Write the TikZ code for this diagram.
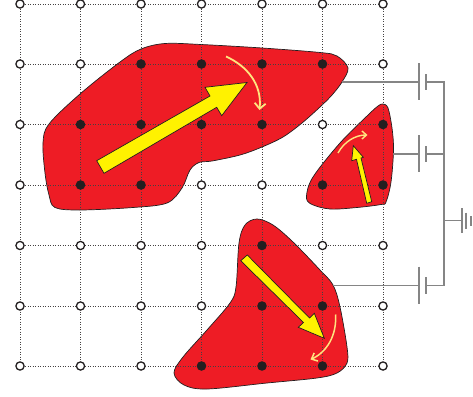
\documentclass[tikz,border=0pt]{standalone}
\usetikzlibrary{arrows.meta}
\definecolor{blobred}{HTML}{EE1C25}
\definecolor{arrowyellow}{HTML}{FFF200}
\definecolor{ink}{HTML}{231F20}
\definecolor{cream}{HTML}{FFE57F}
\definecolor{wire}{HTML}{858585}
\tikzset{
  blob/.style={fill=blobred,draw=ink,line width=.7pt},
  gridline/.style={draw=ink!85,line width=.7pt,dash pattern=on 1pt off 1.5pt},
  opendot/.style={circle,draw=ink,fill=white,line width=1.3pt,minimum size=8.2pt,inner sep=0pt},
  fulldot/.style={circle,fill=ink,minimum size=9.6pt,inner sep=0pt},
  bigarrow/.style={fill=arrowyellow,draw=ink,line width=.7pt,line join=miter},
  turn/.style={draw=cream,line width=1.8pt,-{Straight Barb[length=5.5pt,width=11pt,line width=1.8pt]}},
  wireline/.style={draw=wire,line width=1.4pt},
  plate/.style={draw=wire,line width=1.6pt}
}
\begin{document}
\begin{tikzpicture}[x=1pt,y=-1pt]
\useasboundingbox (0,0) rectangle (473,396);
% regions
\draw[blob] plot[smooth cycle,tension=.55] coordinates {
 (49,124) (80,94) (120,62) (141,49) (165,43.5) (201,44.5) (262,48) (320,52.5) (337,56) (348,68)
 (342,82) (332,95) (320,107) (302,123) (283,137) (262,147) (240,155) (212,161) (199,162.5) (190,170)
 (182,188) (167,203) (133,207.5) (80,210) (55,207.5) (49,195) (45,173) (43,143)};
\draw[blob] plot[smooth cycle,tension=.55] coordinates {
 (383,104) (388,108) (392,128) (393.5,150) (391,182) (386,202) (381,204.5) (357,207.5) (330,209)
 (311,204) (306.5,196) (313,177) (340,143) (367,116) (378,106)};
\draw[blob] plot[smooth cycle,tension=.55] coordinates {
 (257,219) (273,225) (293,242) (320,270) (333,285) (340,307) (347,347) (347,363) (337,373) (317,378)
 (267,383) (207,389) (184,385) (174,373) (183,357) (207,330) (230,303) (236,287) (239,243) (245,225)};
% grid
\foreach \yy in {4,64,124.5,185,245.5,306,366}
  \draw[gridline] (20,\yy) -- (383,\yy);
\foreach \xx in {20,80.5,141,201.5,262,322.5,383}
  \draw[gridline] (\xx,4) -- (\xx,366);
% open sites
\foreach \xx/\yy [count=\i] in {20/4,80.5/4,141/4,201.5/4,262/4,322.5/4,383/4,
  20/64,80.5/64,383/64,20/124.5,322.5/124.5,20/185,201.5/185,262/185,
  20/245.5,80.5/245.5,141/245.5,201.5/245.5,322.5/245.5,383/245.5,
  20/306,80.5/306,141/306,201.5/306,383/306,20/366,80.5/366,141/366,383/366}
  \node[opendot] (o\i) at (\xx,\yy) {};
% filled sites
\foreach \xx/\yy [count=\i] in {141/64,201.5/64,262/64,322.5/64,
  80.5/124.5,141/124.5,201.5/124.5,262/124.5,383/124.5,
  80.5/185,141/185,322.5/185,383/185,
  262/245.5,262/306,322.5/306,201.5/366,262/366,322.5/366}
  \node[fulldot] (f\i) at (\xx,\yy) {};
% yellow arrows
\draw[bigarrow] (96.7,160.7) -- (210,96) -- (205,87.3) -- (247,82.5) -- (221.7,115.7) -- (216.7,107.3) -- (104,173.3) -- cycle;
\draw[bigarrow] (366.7,203.3) -- (356.5,159.3) -- (351.7,160.7) -- (353.3,145.7) -- (363.3,157.3) -- (361,158) -- (371.7,201.7) -- cycle;
\draw[bigarrow] (240.7,260.7) -- (247.3,255) -- (309.5,318) -- (314.3,313.3) -- (324.3,338.3) -- (298.3,327.3) -- (303.5,322.5) -- cycle;
% rotation arrows
\coordinate (r1a) at (226,56.5); \coordinate (r1b) at (259.5,110);
\coordinate (r2a) at (338,153); \coordinate (r2b) at (367.5,135);
\coordinate (r3a) at (335.5,314.5); \coordinate (r3b) at (310.5,359.5);
\draw[turn] (r1a) .. controls (247,66) and (262,84) .. (r1b);
\draw[turn,-{Straight Barb[length=4.5pt,width=8pt,line width=1.4pt]},line width=1.4pt] (r2a) .. controls (344,142) and (355,135) .. (r2b);
\draw[turn,-{Straight Barb[length=5pt,width=9pt,line width=1.5pt]},line width=1.5pt] (r3a) .. controls (337,335) and (327,352) .. (r3b);
% circuit
\coordinate (c1) at (342,82); \coordinate (c2) at (393,154); \coordinate (c3) at (333,285.5);
\coordinate (bus1) at (444,82); \coordinate (bus2) at (444,154); \coordinate (bus3) at (444,285.5);
\coordinate (busg) at (444,220.7); \coordinate (gnd) at (461.7,220.7);
\draw[wireline] (c1) -- (419,82);
\draw[wireline] (c2) -- (419,154);
\draw[wireline] (c3) -- (419,285.5);
\draw[wireline,line join=miter] (425.7,82) -- (bus1) -- (bus3) -- (425.7,285.5);
\draw[wireline] (425.7,154) -- (bus2);
\draw[wireline] (busg) -- (gnd);
\draw[plate] (419,63) -- (419,100);
\draw[plate] (425.7,74) -- (425.7,90);
\draw[plate] (419,135) -- (419,172);
\draw[plate] (425.7,146) -- (425.7,162);
\draw[plate] (419,266.7) -- (419,303.5);
\draw[plate] (425.7,277) -- (425.7,294);
\draw[plate] (461.7,208) -- (461.7,233);
\draw[plate] (466,212.7) -- (466,229);
\draw[plate] (470.7,216) -- (470.7,225.7);
\end{tikzpicture}
\end{document}
